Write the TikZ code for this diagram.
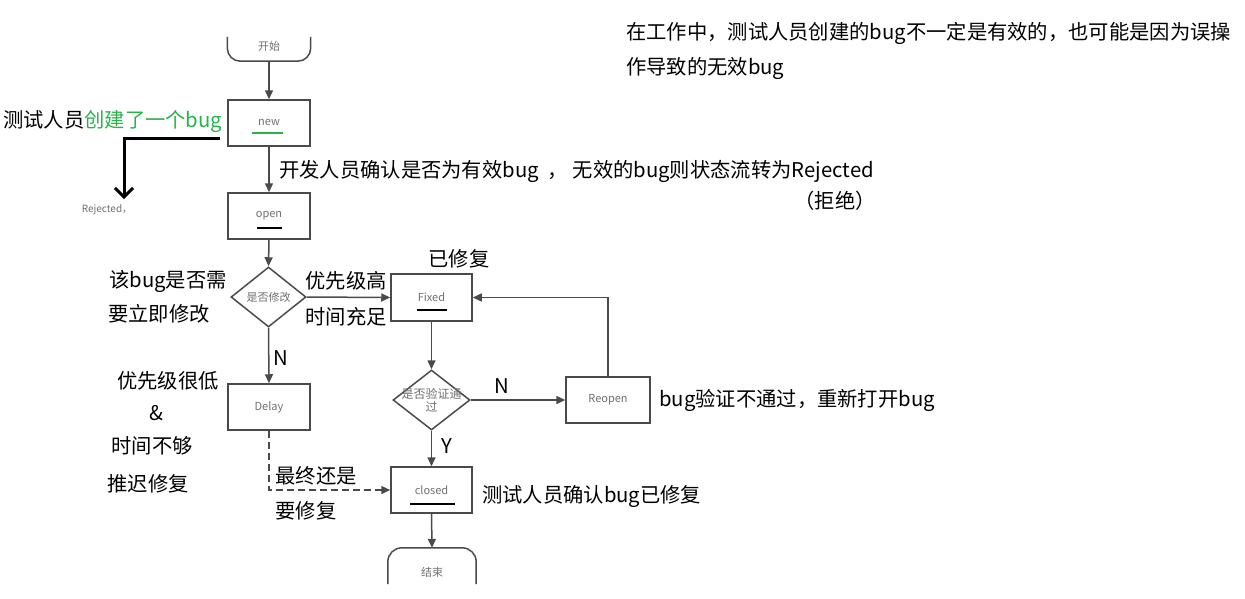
\documentclass[tikz,border=0pt]{standalone}
\usepackage{fontspec}
\setmainfont{Noto Sans CJK SC}
\usetikzlibrary{shapes.geometric,arrows.meta}
\definecolor{linegray}{HTML}{4A4A4A}
\definecolor{textgray}{HTML}{707070}
\definecolor{markgreen}{RGB}{40,180,75}
\begin{document}
\begin{tikzpicture}[x=1pt,y=-1pt,
  box/.style={draw=linegray,line width=1.5pt,minimum width=82pt,minimum height=46pt,inner sep=0pt,text=textgray,font=\fontsize{11}{13}\selectfont},
  dec/.style={diamond,draw=linegray,line width=1.5pt,minimum width=75pt,minimum height=60pt,inner sep=0pt},
  inlabel/.style={text=textgray,font=\fontsize{11}{12}\selectfont,align=center,inner sep=0pt},
  flow/.style={draw=linegray,line width=1.5pt,-{Triangle[length=9pt,width=8pt]}},
  term/.style={draw=linegray,line width=1.5pt},
  big/.style={font=\fontsize{20.3}{24}\selectfont,text=black,inner sep=0pt},
  under/.style={line width=2.5pt,black},
]
\useasboundingbox[fill=white] (0,0) rectangle (1245,598);

% start / end terminals
\node[minimum width=83pt,minimum height=24pt,inner sep=0pt,
      label={[inlabel,yshift=3pt]center:开始}] (start) at (269,49) {};
\draw[term,rounded corners=13pt] (start.north west) -- (start.south west) -- (start.south east) -- (start.north east);

\node[minimum width=88pt,minimum height=36pt,inner sep=0pt,
      label={[inlabel,yshift=-6pt]center:结束}] (end) at (432,566) {};
\draw[term,rounded corners=14pt] (end.south west) -- (end.north west) -- (end.north east) -- (end.south east);

% boxes
\node[box] (new) at (269,123) {new};
\node[box] (open) at (269,216) {open};
\node[dec,label={[inlabel]center:是否修改}] (d1) at (268.5,297) {};
\node[box,minimum width=81pt,minimum height=47pt] (fixed) at (431.5,297.5) {Fixed};
\node[box] (delay) at (269,407) {Delay};
\node[dec,minimum width=77pt,label={[inlabel,font=\fontsize{12}{13}\selectfont]center:是否验证通\\过}] (d2) at (431.5,400) {};
\node[box,minimum width=84pt] (reopen) at (608,400) {Reopen};
\node[box,minimum width=81pt] (closed) at (431.5,490) {closed};

% underlines
\draw[line width=2.5pt,markgreen] (252,133) -- (283,133);
\draw[under] (257,228) -- (282,228);
\draw[under] (417,310) -- (447,310);
\draw[under] (410,504) -- (455,504);

% connectors
\draw[flow] (start.south) -- (new.north);
\draw[flow] (new.south) -- (open.north);
\draw[flow] (open.south) -- (d1.north);
\draw[flow] (d1.east) -- (fixed.west);
\draw[flow] (d1.south) -- (delay.north);
\draw[flow] (fixed.south) -- (d2.north);
\draw[flow] (d2.east) -- (reopen.west);
\draw[flow] (reopen.north) |- (fixed.east);
\draw[flow] (d2.south) -- (closed.north);
\draw[flow,dash pattern=on 7pt off 4pt] (delay.south) |- (closed.west);
\draw[flow] (closed.south) -- (end.north);

% rejected arrow
\coordinate (rj0) at (220,138);
\coordinate (rj1) at (124,199);
\draw[line width=3pt,black,-{Straight Barb[length=9pt,width=18pt]}] (rj0) -| (rj1);
\node[text=textgray,font=\fontsize{10}{11}\selectfont,inner sep=0pt] (rej) at (107,210) {Rejected，};

% texts
\node[big,anchor=west] (t1) at (3,121) {测试人员\textcolor{markgreen}{创建了一个bug}};
\node[big,anchor=west,align=left,font=\fontsize{20.3}{35}\selectfont] (t0) at (626,50.5) {在工作中，测试人员创建的bug不一定是有效的，也可能是因为误操\\作导致的无效bug};
\node[big,anchor=west] (t2) at (279,171) {开发人员确认是否为有效bug\ \ ，\ 无效的bug则状态流转为Rejected};
\node[big] (t3) at (835,201) {（拒绝）};
\node[big] (t4) at (168,281) {该bug是否需};
\node[big] (t5) at (159,314) {要立即修改};
\node[big] (t6) at (346,281) {优先级高};
\node[big] (t7) at (346,317) {时间充足};
\node[big] (t8) at (459,259) {已修复};
\node[big] (n1) at (281,358) {N};
\node[big] (t9) at (168,381) {优先级很低};
\node[big] (t10) at (156,413) {\&};
\node[big] (t11) at (152,446) {时间不够};
\node[big] (t12) at (148,484) {推迟修复};
\node[big] (n2) at (502,386) {N};
\node[big] (y1) at (447,446) {Y};
\node[big,anchor=west] (t13) at (659,400) {bug验证不通过，重新打开bug};
\node[big] (t14) at (316,476) {最终还是};
\node[big] (t15) at (306,511) {要修复};
\node[big,anchor=west] (t16) at (482,496) {测试人员确认bug已修复};
\end{tikzpicture}
\end{document}
